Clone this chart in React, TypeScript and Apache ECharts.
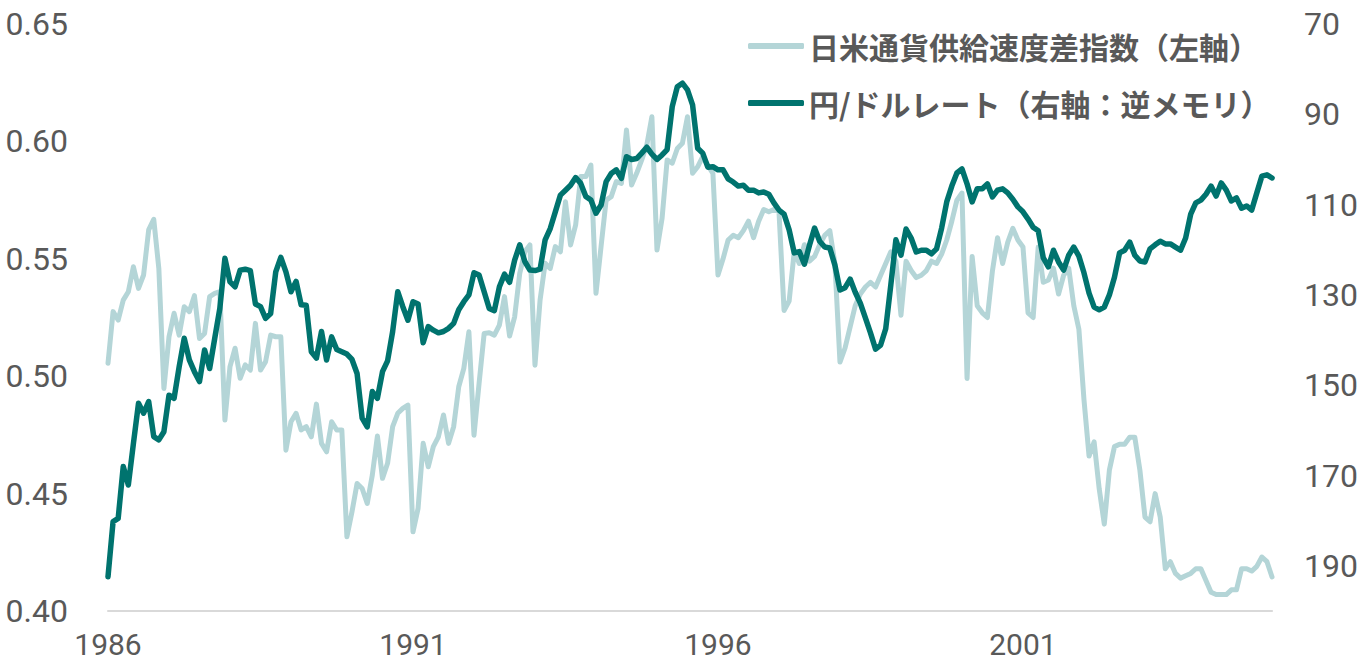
import React, { useEffect, useRef } from "react";
import * as echarts from "echarts";

// Month labels: Jan 1986 .. Feb 2005 (monthly)
const START_YEAR = 1986;
const MONTH_COUNT = 230;
const months: string[] = [];
for (let i = 0; i < MONTH_COUNT; i++) {
  const y = START_YEAR + Math.floor(i / 12);
  const m = (i % 12) + 1;
  months.push(`${y}/${m < 10 ? "0" + m : m}`);
}

const LEGEND_SPREAD = "日米通貨供給速度差指数（左軸）";
const LEGEND_RATE = "円/ドルレート（右軸：逆メモリ）";

// 日米通貨供給速度差指数 (left axis)
const spread1986to1990 = [
  0.5055, 0.5275, 0.5239, 0.5324, 0.536, 0.5466, 0.5374, 0.5431, 0.5623, 0.5668, 0.5459, 0.4948,
  0.5168, 0.5268, 0.5175, 0.5296, 0.5275, 0.5343, 0.5161, 0.5182, 0.5339, 0.5353, 0.536, 0.4813,
  0.5041, 0.5119, 0.4991, 0.5048, 0.5026, 0.5225, 0.5026, 0.5062, 0.5175, 0.5168, 0.5168, 0.4685,
  0.4806, 0.4842, 0.4771, 0.4785, 0.4742, 0.4881, 0.4714, 0.4678, 0.4806, 0.4771, 0.4771, 0.4316,
  0.4423, 0.4543, 0.4522, 0.4458, 0.4579, 0.4745, 0.4565, 0.4629, 0.4785, 0.4842, 0.4863, 0.4877,
];
const spread1991to1995 = [
  0.4337, 0.4437, 0.4714, 0.4614, 0.47, 0.4742, 0.4835, 0.4714, 0.4785, 0.4955, 0.5033, 0.5189,
  0.4749, 0.4969, 0.5182, 0.5185, 0.5175, 0.5218, 0.5339, 0.5171, 0.5253, 0.5438, 0.553, 0.5559,
  0.5047, 0.5324, 0.5481, 0.5459, 0.5552, 0.553, 0.5743, 0.5559, 0.5644, 0.585, 0.585, 0.5899,
  0.5353, 0.5552, 0.575, 0.5765, 0.5829, 0.5821, 0.6049, 0.5814, 0.5864, 0.5921, 0.5985, 0.6105,
  0.5537, 0.5672, 0.5921, 0.5907, 0.597, 0.5992, 0.6105, 0.5864, 0.5892, 0.5935, 0.5899, 0.5864,
];
const spread1996to2000 = [
  0.5431, 0.55, 0.558, 0.56, 0.559, 0.562, 0.566, 0.559, 0.566, 0.571, 0.57, 0.571,
  0.57, 0.528, 0.532, 0.553, 0.548, 0.556, 0.549, 0.551, 0.556, 0.56, 0.562, 0.548,
  0.506, 0.512, 0.521, 0.53, 0.535, 0.538, 0.54, 0.538, 0.543, 0.548, 0.553, 0.549,
  0.526, 0.549, 0.545, 0.542, 0.543, 0.545, 0.549, 0.548, 0.552, 0.558, 0.566, 0.575,
  0.578, 0.499, 0.551, 0.53, 0.527, 0.525, 0.545, 0.559, 0.548, 0.557, 0.563, 0.558,
];
const spread2001to2005 = [
  0.555, 0.527, 0.525, 0.555, 0.54, 0.541, 0.546, 0.535, 0.543, 0.546, 0.53, 0.52,
  0.49, 0.466, 0.472, 0.452, 0.437, 0.46, 0.47, 0.471, 0.471, 0.474, 0.474, 0.46,
  0.44, 0.438, 0.45, 0.44, 0.418, 0.421, 0.416, 0.414, 0.415, 0.416, 0.418, 0.418,
  0.413, 0.408, 0.407, 0.407, 0.407, 0.409, 0.409, 0.418, 0.418, 0.417, 0.419, 0.423,
  0.421, 0.4145,
];

// 円/ドルレート (right axis, inverted)
const yen1986to1990 = [
  192.4, 180.2, 179.5, 168.0, 172.1, 162.9, 154.0, 156.2, 153.6, 161.4, 162.1, 160.3,
  152.2, 152.9, 145.9, 139.6, 144.4, 147.0, 149.2, 142.2, 146.3, 139.6, 133.0, 121.9,
  127.1, 128.2, 124.5, 124.3, 124.6, 132.0, 132.6, 135.2, 134.1, 124.9, 121.7, 124.9,
  129.3, 127.0, 132.2, 132.3, 142.6, 144.0, 138.1, 144.4, 139.3, 142.1, 142.6, 143.1,
  144.3, 147.4, 157.3, 159.2, 151.4, 152.9, 147.0, 144.6, 138.1, 129.3, 132.6, 135.6,
];
const yen1991to1995 = [
  131.5, 132.0, 140.6, 137.0, 137.8, 138.4, 138.1, 137.4, 136.3, 133.3, 131.5, 130.0,
  125.1, 125.6, 129.3, 133.0, 133.5, 128.2, 125.4, 127.2, 122.3, 118.9, 122.6, 124.5,
  124.6, 124.3, 117.8, 115.3, 111.6, 107.9, 106.8, 105.7, 104.0, 105.3, 108.2, 109.0,
  111.9, 110.1, 104.9, 103.1, 102.3, 104.2, 99.4, 100.0, 99.8, 98.6, 97.3, 98.8,
  100.0, 99.0, 97.8, 88.3, 83.9, 83.1, 84.6, 87.9, 97.5, 98.6, 101.7, 101.6,
];
const yen1996to2000 = [
  102.3, 102.3, 104.3, 105.0, 105.9, 105.7, 106.8, 106.8, 107.4, 107.2, 107.7, 109.6,
  111.2, 112.1, 115.6, 120.7, 120.4, 123.2, 119.0, 115.2, 118.1, 119.4, 119.6, 123.4,
  128.9, 128.4, 126.5, 129.4, 131.8, 135.1, 138.4, 142.0, 141.1, 137.5, 127.8, 117.8,
  121.2, 115.4, 117.4, 120.5, 120.1, 120.1, 120.9, 119.8, 115.2, 109.4, 105.9, 103.0,
  102.1, 105.4, 109.4, 106.5, 106.5, 105.4, 108.3, 106.8, 106.5, 107.4, 108.8, 110.5,
];
const yen2001to2005 = [
  111.6, 113.2, 115.0, 115.8, 121.8, 123.8, 120.1, 122.7, 124.5, 121.2, 119.4, 121.4,
  125.1, 129.6, 132.7, 133.3, 132.7, 130.0, 126.1, 120.7, 120.1, 118.3, 121.2, 122.5,
  122.7, 119.8, 118.9, 118.1, 118.7, 118.7, 119.4, 120.1, 117.4, 112.1, 109.6, 109.0,
  107.7, 105.9, 108.1, 105.2, 106.8, 109.2, 108.5, 110.8, 110.3, 111.2, 107.4, 103.7,
  103.4, 104.1,
];

const leftTicks = [0.4, 0.45, 0.5, 0.55, 0.6, 0.65];
const rightTicks = [70, 90, 110, 130, 150, 170, 190];
const yearLabelEvery = 60; // every 5 years

const spread = [...spread1986to1990, ...spread1991to1995, ...spread1996to2000, ...spread2001to2005];
const yen = [...yen1986to1990, ...yen1991to1995, ...yen1996to2000, ...yen2001to2005];

const LABEL_COLOR = "#595959";
const NUM_FONT = "Roboto, 'Liberation Sans', sans-serif";

export default function App() {
  const ref = useRef<HTMLDivElement>(null);

  useEffect(() => {
    if (!ref.current) return;
    const chart = echarts.init(ref.current, null, { renderer: "svg" });
    chart.setOption({
      animation: false,
      backgroundColor: "#ffffff",
      grid: { left: 108, right: 85, top: 24, bottom: 50, containLabel: false },
      legend: {
        orient: "vertical",
        left: 743,
        top: 26,
        itemWidth: 56,
        itemHeight: 6,
        itemGap: 27,
        icon: "roundRect",
        data: [LEGEND_SPREAD, LEGEND_RATE],
        textStyle: {
          fontSize: 30,
          fontWeight: "bold",
          color: LABEL_COLOR,
          fontFamily: "'Noto Sans CJK JP', sans-serif",
        },
      },
      xAxis: {
        type: "category",
        data: months,
        boundaryGap: false,
        axisLine: { show: true, lineStyle: { color: "#d9d9d9", width: 2 } },
        axisTick: { show: false },
        splitLine: { show: false },
        axisLabel: {
          interval: (idx: number) => idx % yearLabelEvery === 0,
          formatter: (v: string) => v.slice(0, 4),
          fontSize: 30,
          lineHeight: 30,
          color: LABEL_COLOR,
          fontFamily: NUM_FONT,
          margin: 18,
          showMinLabel: true,
        },
      },
      yAxis: [
        {
          type: "value",
          min: 0.4,
          max: 0.65,
          interval: 0.05,
          axisLine: { show: false },
          axisTick: { show: false },
          splitLine: { show: false },
          axisLabel: {
            customValues: leftTicks,
            formatter: (v: number) => v.toFixed(2),
            fontSize: 32,
            color: LABEL_COLOR,
            fontFamily: NUM_FONT,
            margin: 40,
          },
        },
        {
          type: "value",
          position: "right",
          inverse: true,
          min: 70,
          max: 200,
          interval: 20,
          axisLine: { show: false },
          axisTick: { show: false },
          splitLine: { show: false },
          axisLabel: {
            customValues: rightTicks,
            fontSize: 32,
            color: LABEL_COLOR,
            fontFamily: NUM_FONT,
            margin: 32,
          },
        },
      ],
      series: [
        {
          name: LEGEND_SPREAD,
          type: "line",
          yAxisIndex: 0,
          data: spread,
          symbol: "none",
          z: 2,
          itemStyle: { color: "#b4d5d7" },
          lineStyle: { color: "#b4d5d7", width: 5, cap: "round", join: "round" },
        },
        {
          name: LEGEND_RATE,
          type: "line",
          yAxisIndex: 1,
          data: yen,
          symbol: "none",
          z: 3,
          itemStyle: { color: "#00736e" },
          lineStyle: { color: "#00736e", width: 5.5, cap: "round", join: "round" },
        },
      ],
    });
    return () => chart.dispose();
  }, []);

  return (
    <div
      ref={ref}
      style={{ position: "fixed", left: 0, top: 0, width: 1361, height: 661, background: "#fff" }}
    />
  );
}
